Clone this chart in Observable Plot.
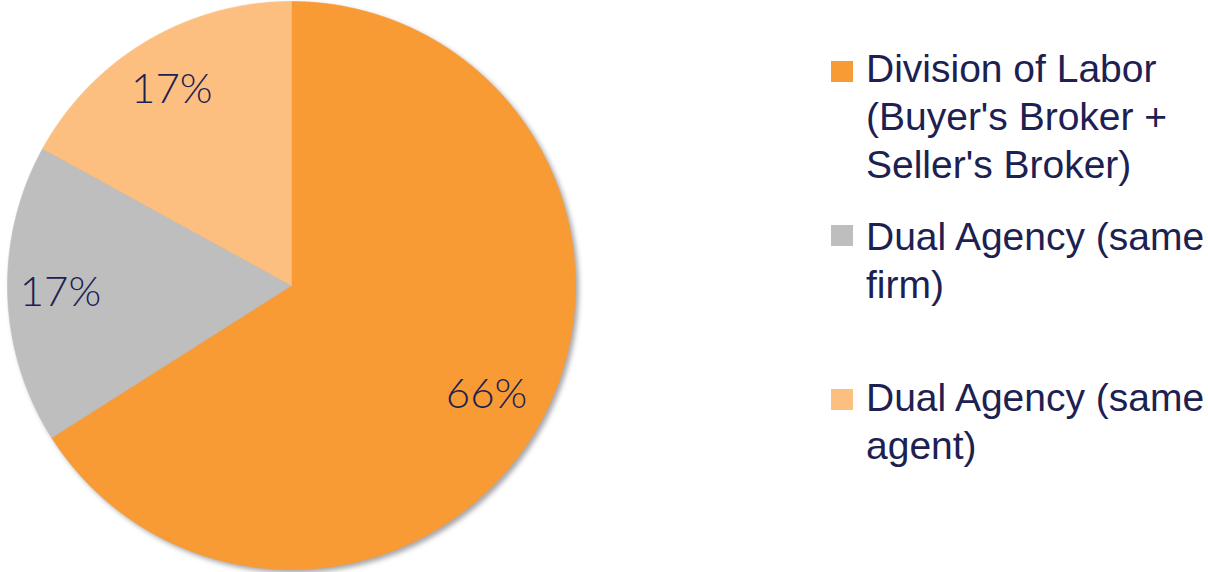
<!DOCTYPE html>
<html>
<head>
<meta charset="utf-8">
<script src="https://cdn.jsdelivr.net/npm/d3@7"></script>
<script src="https://cdn.jsdelivr.net/npm/@observablehq/plot@0.6"></script>
<style>
  html, body { margin: 0; padding: 0; background: #ffffff; overflow: hidden; }
  #wrap { position: relative; width: 1208px; height: 572px; overflow: hidden; }
  .lg-sw { position: absolute; width: 22px; height: 21px; }
  .lg-tx { position: absolute; white-space: nowrap; font-family: "Liberation Sans", Arial, sans-serif;
           font-size: 39px; line-height: 48px; color: #1c2152; letter-spacing: 0px; }
</style>
</head>
<body>
<div id="wrap"></div>
<script>
// ---- data ----
const categories = ["Division of Labor (Buyer's Broker + Seller's Broker)", "Dual Agency (same firm)", "Dual Agency (same agent)"];
const values = [66, 17, 17];
const valueLabels = ["66%", "17%", "17%"];
const colors = ["#F99B34", "#BEBEBE", "#FCBF80"];
const legendLines = [
  ["Division of Labor", "(Buyer's Broker +", "Seller's Broker)"],
  ["Dual Agency (same", "firm)"],
  ["Dual Agency (same", "agent)"]
];

// ---- pie geometry from data ----
const table = categories.map((c, i) => ({category: c, value: values[i], label: valueLabels[i], color: colors[i]}));
const arcs = d3.pie().sort(null).value(d => d.value)(table);

function slicePoints(a) {
  const pts = [{x: 0, y: 0}];
  const step = Math.PI / 720;
  const n = Math.max(2, Math.ceil((a.endAngle - a.startAngle) / step));
  for (let k = 0; k <= n; k++) {
    const t = a.startAngle + (a.endAngle - a.startAngle) * k / n;
    pts.push({x: Math.sin(t), y: Math.cos(t)});
  }
  pts.push({x: 0, y: 0});
  return pts;
}

const labelR = 0.8;
const labelData = arcs.map(a => {
  const m = (a.startAngle + a.endAngle) / 2;
  return {x: labelR * Math.sin(m), y: labelR * Math.cos(m), text: a.data.label};
});

const chart = Plot.plot({
  width: 1208,
  height: 572,
  marginLeft: 7,
  marginRight: 633,
  marginTop: 1,
  marginBottom: 3,
  x: {domain: [-1, 1], axis: null},
  y: {domain: [-1, 1], axis: null},
  style: {background: "transparent"},
  marks: [
    ...arcs.map(a => Plot.line(slicePoints(a), {
      x: "x", y: "y", fill: a.data.color, stroke: a.data.color, strokeWidth: 0.6, curve: "linear"
    })),
    Plot.text(labelData, {
      x: "x", y: "y", text: "text", dx: -4,
      fontSize: 42, fontFamily: "Lato, 'Open Sans', sans-serif", fontWeight: 300,
      fill: "#1c2152", textAnchor: "middle", lineAnchor: "middle"
    })
  ]
});

const wrap = document.getElementById("wrap");
wrap.appendChild(chart);

// group slices for a soft drop shadow
const svg = d3.select(chart);
const lineGroups = svg.selectAll("g[aria-label='line']").nodes();
if (lineGroups.length) {
  const holder = document.createElementNS("http://www.w3.org/2000/svg", "g");
  holder.setAttribute("style", "filter: drop-shadow(3px 3px 2.5px rgba(60,60,70,0.45))");
  lineGroups[0].parentNode.insertBefore(holder, lineGroups[0]);
  lineGroups.forEach(g => holder.appendChild(g));
}

// ---- legend ----
const swatchTops = [61, 225, 389];
const textTops = [44.5, 212.5, 373.5];
legendLines.forEach((lines, i) => {
  const sw = document.createElement("div");
  sw.className = "lg-sw";
  sw.style.left = "831px";
  sw.style.top = swatchTops[i] + "px";
  sw.style.background = colors[i];
  wrap.appendChild(sw);
  const tx = document.createElement("div");
  tx.className = "lg-tx";
  tx.style.left = "866px";
  tx.style.top = textTops[i] + "px";
  tx.innerHTML = lines.map(l => l.replace(/&/g, "&amp;").replace(/</g, "&lt;")).join("<br>");
  wrap.appendChild(tx);
});
</script>
</body>
</html>
